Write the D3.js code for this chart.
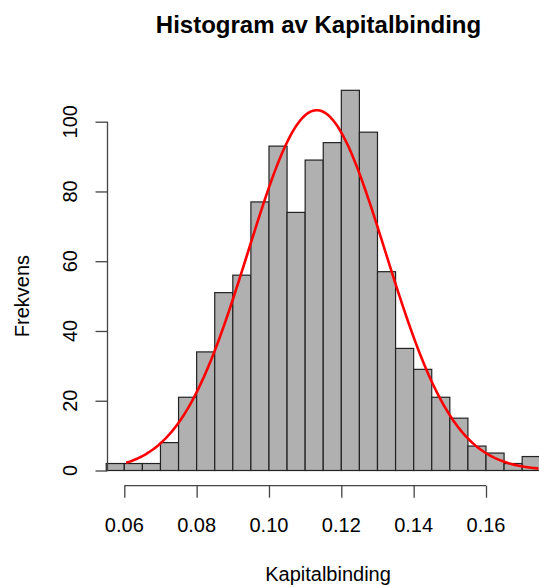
<html><head>
<title>Histogram av Kapitalbinding</title>
<script src="https://d3js.org/d3.v7.min.js"></script>
<style>
  body { margin: 0; background: white; }
  text { font-family: "Liberation Sans", Arial, sans-serif; fill: black; }
  .bar { fill: #b0b0b0; stroke: #222; stroke-width: 1.2px; }
  .axis path, .axis line { stroke: #444; stroke-width: 1.3px; }
  .curve { fill: none; stroke: #ff0000; stroke-width: 2.6px; }
</style>
</head>
<body>
<svg id="hist" width="539" height="587"></svg>
<script>

  // bin edges (left side) and counts, bin width 0.005
  const binStarts = [0.055, 0.060, 0.065, 0.070, 0.075, 0.080, 0.085, 0.090, 0.095, 0.100, 0.105, 0.110,
                     0.115, 0.120, 0.125, 0.130, 0.135, 0.140, 0.145, 0.150, 0.155, 0.160, 0.165, 0.170];
  const counts = [2, 2, 2, 8, 21, 34, 51, 56, 77, 93, 74, 89,
                  94, 109, 97, 57, 35, 29, 21, 15, 7, 5, 2, 4];
  const binWidth = 0.005;

  // fitted normal curve (mean, sd) scaled by n * binWidth
  const fitMean = 0.1132;
  const fitSd = 0.019;
  const fitFrom = 0.0605;
  const fitTo = 0.1745;

  const xTicks = [0.06, 0.08, 0.10, 0.12, 0.14, 0.16];
  const yTicks = [0, 20, 40, 60, 80, 100];

  const svg = d3.select("#hist");

  const x = d3.scaleLinear().domain([0.06, 0.16]).range([124.3, 486]);
  const y = d3.scaleLinear().domain([0, 100]).range([470.5, 121.7]);

  // 1. bars
  svg.append("g").selectAll("rect")
    .data(binStarts)
    .join("rect")
    .attr("class", "bar")
    .attr("x", d => x(d))
    .attr("width", d => x(d + binWidth) - x(d))
    .attr("y", (d, i) => y(counts[i]))
    .attr("height", (d, i) => y(0) - y(counts[i]));

  // 2. normal density curve
  const n = d3.sum(counts);
  const dens = v => n * binWidth * Math.exp(-0.5 * Math.pow((v - fitMean) / fitSd, 2)) / (fitSd * Math.sqrt(2 * Math.PI));
  const curvePts = d3.range(fitFrom, fitTo, 0.0005).concat([fitTo]);
  svg.append("path")
    .attr("class", "curve")
    .attr("d", d3.line().x(d => x(d)).y(d => y(dens(d)))(curvePts));

  // 3. axes, R style (detached)
  const xAxis = svg.append("g").attr("class", "axis")
    .attr("transform", "translate(0,485.7)")
    .call(d3.axisBottom(x).tickValues(xTicks).tickSize(12).tickSizeOuter(0).tickFormat(""));
  xAxis.select(".domain").attr("d", "M" + x(0.06) + ",0H" + x(0.16));
  svg.append("g").selectAll("text")
    .data(xTicks)
    .join("text")
    .attr("x", d => x(d))
    .attr("y", 532)
    .attr("text-anchor", "middle")
    .style("font-size", "20px")
    .text(d => d3.format(".2f")(d));

  const yAxis = svg.append("g").attr("class", "axis")
    .attr("transform", "translate(107.5,0)")
    .call(d3.axisLeft(y).tickValues(yTicks).tickSize(12).tickSizeOuter(0).tickFormat(""));
  yAxis.select(".domain").attr("d", "M0," + y(0) + "V" + y(100));
  svg.append("g").selectAll("text")
    .data(yTicks)
    .join("text")
    .attr("transform", d => "translate(77," + y(d) + ") rotate(-90)")
    .attr("text-anchor", "middle")
    .style("font-size", "20px")
    .text(d => d);

  // 4. titles
  svg.append("text")
    .attr("x", 318.5).attr("y", 33)
    .attr("text-anchor", "middle")
    .style("font-size", "24px").style("font-weight", "bold")
    .text("Histogram av Kapitalbinding");
  svg.append("text")
    .attr("x", 328).attr("y", 581)
    .attr("text-anchor", "middle")
    .style("font-size", "20px")
    .text("Kapitalbinding");
  svg.append("text")
    .attr("transform", "translate(29,296) rotate(-90)")
    .attr("text-anchor", "middle")
    .style("font-size", "20px")
    .text("Frekvens");

</script>
</body>
</html>
